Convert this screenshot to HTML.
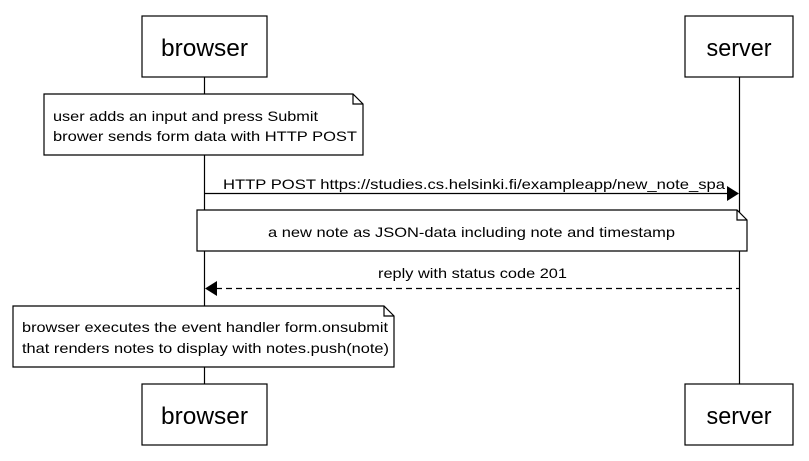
<!DOCTYPE html>
<html><head><style>body{margin:0;background:#fff}</style></head><body>
<svg width="809" height="456" xmlns="http://www.w3.org/2000/svg" font-family="Liberation Sans, sans-serif">
<g stroke="#000" stroke-width="1.2" fill="none">
<line x1="204.5" y1="77" x2="204.5" y2="384"/>
<line x1="739.5" y1="77" x2="739.5" y2="384"/>
</g>
<g stroke="#000" stroke-width="1.2" fill="#fff">
<rect x="142" y="16" width="125" height="61"/>
<rect x="685" y="16" width="108" height="61"/>
<rect x="142" y="384" width="125" height="61"/>
<rect x="685" y="384" width="108" height="61"/>
<path d="M44 94 H353 L363 104 V155 H44 Z"/><path d="M353 94 V104 H363" fill="none"/>
<path d="M197 210 H737 L747 220 V251 H197 Z"/><path d="M737 210 V220 H747" fill="none"/>
<path d="M13 306 H384 L394 316 V367 H13 Z"/><path d="M384 306 V316 H394" fill="none"/>
</g>
<g font-size="24" text-anchor="middle" fill="#000">
<text x="204.5" y="56" textLength="87" lengthAdjust="spacingAndGlyphs">browser</text>
<text x="739" y="56" textLength="65" lengthAdjust="spacingAndGlyphs">server</text>
<text x="204.5" y="424" textLength="87" lengthAdjust="spacingAndGlyphs">browser</text>
<text x="739" y="424" textLength="65" lengthAdjust="spacingAndGlyphs">server</text>
</g>
<g font-size="14" fill="#000" lengthAdjust="spacingAndGlyphs">
<text x="53" y="121" textLength="265" lengthAdjust="spacingAndGlyphs">user adds an input and press Submit</text>
<text x="53" y="141" textLength="304" lengthAdjust="spacingAndGlyphs">brower sends form data with HTTP POST</text>
<text x="268" y="237" textLength="407" lengthAdjust="spacingAndGlyphs">a new note as JSON-data including note and timestamp</text>
<text x="22" y="332" textLength="366" lengthAdjust="spacingAndGlyphs">browser executes the event handler form.onsubmit</text>
<text x="22" y="353" textLength="367" lengthAdjust="spacingAndGlyphs">that renders notes to display with notes.push(note)</text>
<text x="223" y="189" textLength="502" lengthAdjust="spacingAndGlyphs">HTTP POST https://studies.cs.helsinki.fi/exampleapp/new_note_spa</text>
<text x="378" y="278" textLength="189" lengthAdjust="spacingAndGlyphs">reply with status code 201</text>
</g>
<line x1="204.5" y1="193.5" x2="728" y2="193.5" stroke="#000" stroke-width="1.2"/>
<path d="M727 186 L739 193.5 L727 201 Z" fill="#000"/>
<line x1="216" y1="288.5" x2="739" y2="288.5" stroke="#000" stroke-width="1.2" stroke-dasharray="6,4"/>
<path d="M217 281 L205 288.5 L217 296 Z" fill="#000"/>
</svg>
</body></html>
